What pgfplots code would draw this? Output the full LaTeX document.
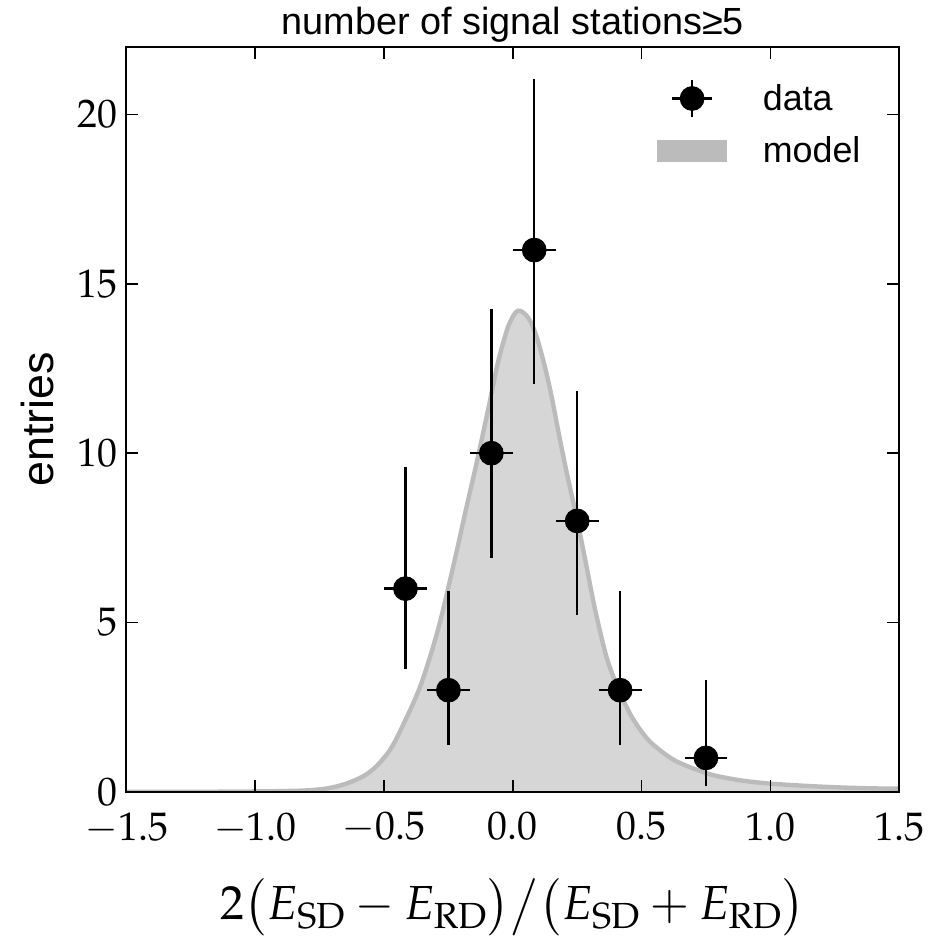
\documentclass[border=0pt]{standalone}
\usepackage{mathpazo}
\usepackage[no-math]{fontspec}
\usepackage{pgfplots}
\pgfplotsset{compat=1.18}
\newfontfamily\helv{Liberation Sans}
\definecolor{modelfill}{HTML}{D6D6D6}
\definecolor{modeledge}{HTML}{BBBBBB}

\pgfplotstableread{
x ex y ep em
-0.4167 0.0833 6 3.58 2.38
-0.25 0.0833 3 2.92 1.63
-0.0833 0.0833 10 4.27 3.11
0.0833 0.0833 16 5.06 3.96
0.25 0.0833 8 3.83 2.77
0.4167 0.0833 3 2.92 1.63
0.75 0.0833 1 2.30 0.83
}\datatab

\pgfplotstableread{
x y
-1.5 0.0
-1.2 0.0
-1.0 0.01
-0.9 0.02
-0.8 0.04
-0.72 0.1
-0.65 0.23
-0.58 0.46
-0.53 0.75
-0.48 1.2
-0.44 1.75
-0.36 3.1
-0.29 4.8
-0.23 6.7
-0.18 8.4
-0.135 9.9
-0.09 11.5
-0.057 12.7
-0.02 13.7
0.01 14.15
0.03 14.2
0.06 14.0
0.09 13.5
0.123 12.6
0.15 11.7
0.178 10.6
0.21 9.4
0.248 8.1
0.28 6.9
0.319 5.4
0.365 3.95
0.412 3.0
0.463 2.2
0.53 1.5
0.63 0.92
0.76 0.53
0.85 0.38
0.92 0.3
1.0 0.24
1.1 0.19
1.2 0.15
1.3 0.12
1.4 0.1
1.5 0.09
}\modeltab

\begin{document}
\begin{tikzpicture}
\begin{axis}[
    name=ax,
    width=388pt, height=374pt, scale only axis,
    xmin=-1.5, xmax=1.5, ymin=0, ymax=22,
    xtick={-1.5,-1,...,1.5}, ytick={0,5,...,20},
    tick align=inside, major tick length=6pt,
    tick style={black, line width=0.8pt},
    axis line style={line width=1pt},
    ticklabel style={font=\fontsize{20}{20}\selectfont},
    xticklabel style={yshift=-7pt, /pgf/number format/fixed,
        /pgf/number format/fixed zerofill, /pgf/number format/precision=1},
    yticklabel style={xshift=-1pt},
    title={number of signal stations≥5},
    title style={font=\helv\fontsize{19}{19}\selectfont, yshift=-7pt},
    ylabel={entries},
    ylabel style={font=\helv\fontsize{22.5}{22.5}\selectfont, yshift=5pt},
    xlabel={$2\bigl(E_{\mathrm{SD}}-E_{\mathrm{RD}}\bigr)\big/\bigl(E_{\mathrm{SD}}+E_{\mathrm{RD}}\bigr)$},
    xlabel style={font=\fontsize{24}{24}\selectfont, yshift=-10pt},
    axis on top,
    legend style={draw=none, fill=none, at={(axis cs:1.39,21.2)}, anchor=north east,
        font=\helv\fontsize{18}{18}\selectfont, row sep=7pt},
    legend cell align=left,
]
\addlegendimage{legend image code/.code={
    \draw[black, line width=1.2pt] (17.5pt,-9.5pt) -- (17.5pt,9.5pt) (7.5pt,0pt) -- (27.5pt,0pt);
    \fill[black] (17.5pt,0pt) circle (6pt);
    \path[draw=none, fill=none] (0pt,0pt) -- (51pt,0pt);}}
\addlegendentry{data}
\addlegendimage{legend image code/.code={
    \fill[modeledge, draw=none] (0pt,-5.75pt) rectangle (35pt,5.75pt);
    \path[draw=none, fill=none] (0pt,0pt) -- (51pt,0pt);}}
\addlegendentry{model}

\addplot[fill=modelfill, draw=none, forget plot] table[x=x, y=y] {\modeltab} \closedcycle;
\addplot[modeledge, line width=2.2pt, smooth, forget plot] table[x=x, y=y] {\modeltab};

\addplot[black, only marks, mark=*, mark size=6pt, forget plot,
    error bars/.cd, x dir=both, x explicit, y dir=both, y explicit,
    error mark=none, error bar style={line width=1.2pt, black}]
    table[x=x, y=y, x error=ex, y error plus=ep, y error minus=em] {\datatab};
\end{axis}
\path ([xshift=22pt]ax.east);
\path ([xshift=-63.5pt]ax.west);
\path ([yshift=-56.5pt]ax.south);
\end{tikzpicture}
\end{document}
